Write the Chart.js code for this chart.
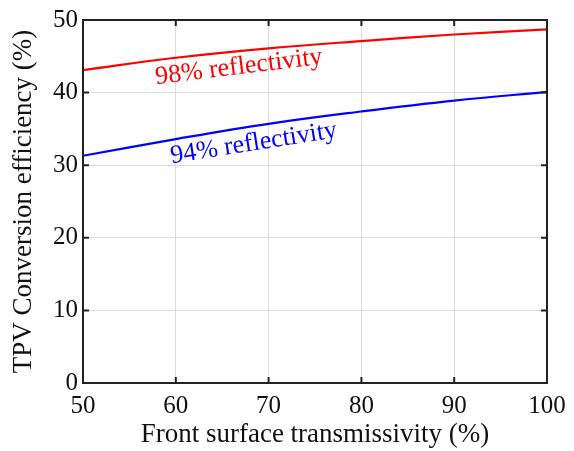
<!DOCTYPE html>
<html>
<head>
<meta charset="utf-8">
<script src="https://cdn.jsdelivr.net/npm/chart.js@4.4.1/dist/chart.umd.min.js"></script>
<style>
  html, body { margin: 0; padding: 0; background: #fff; }
  #wrap { width: 574px; height: 451px; }
</style>
</head>
<body>
<div id="wrap"><canvas id="tpvChart" width="574" height="451"></canvas></div>
<script>
// transmissivity (%) en el eje x
const transmissivity = [50, 60, 70, 80, 90, 100];
// eficiencia de conversion (%) para cada reflectividad
const eff98 = [43.1, 44.8, 46.1, 47.1, 48.0, 48.7];
const eff94 = [31.3, 33.6, 35.7, 37.4, 38.9, 40.1];
const xTicks = [50, 60, 70, 80, 90, 100];
const yTicks = [0, 10, 20, 30, 40, 50];
// etiquetas dentro del grafico: [texto, x, y, angulo, color]
const curveLabels = [
    ["98% reflectivity", 66.8, 43.5, -7, "#ff0000"],
    ["94% reflectivity", 68.4, 33.0, -9, "#0000ff"],
];

const serif = "'Liberation Serif', 'Times New Roman', serif";

// marco negro y marcas hacia adentro
const framePlugin = {
    id: "frame",
    afterDraw(chart) {
        const { ctx, chartArea: a, scales } = chart;
        ctx.save();
        ctx.strokeStyle = "#222";
        ctx.lineWidth = 2;
        ctx.beginPath();
        xTicks.forEach(v => {
            const px = scales.x.getPixelForValue(v);
            ctx.moveTo(px, a.bottom); ctx.lineTo(px, a.bottom - 6);
            ctx.moveTo(px, a.top); ctx.lineTo(px, a.top + 6);
        });
        yTicks.forEach(v => {
            const py = scales.y.getPixelForValue(v);
            ctx.moveTo(a.left, py); ctx.lineTo(a.left + 6, py);
            ctx.moveTo(a.right, py); ctx.lineTo(a.right - 6, py);
        });
        ctx.stroke();
        ctx.strokeRect(a.left, a.top, a.right - a.left, a.bottom - a.top);

        ctx.font = "26px " + serif;
        ctx.textAlign = "center";
        ctx.textBaseline = "middle";
        curveLabels.forEach(([text, x, y, ang, color]) => {
            ctx.save();
            ctx.translate(scales.x.getPixelForValue(x), scales.y.getPixelForValue(y));
            ctx.rotate(ang * Math.PI / 180);
            ctx.fillStyle = color;
            ctx.fillText(text, 0, 0);
            ctx.restore();
        });
        ctx.restore();
    }
};

const ctx = document.getElementById("tpvChart").getContext("2d");
new Chart(ctx, {
    type: "line",
    data: {
        datasets: [
            {
                label: "98% reflectivity",
                data: transmissivity.map((t, i) => ({ x: t, y: eff98[i] })),
                borderColor: "#ff0000",
                borderWidth: 2.2,
                pointRadius: 0,
                tension: 0.4,
            },
            {
                label: "94% reflectivity",
                data: transmissivity.map((t, i) => ({ x: t, y: eff94[i] })),
                borderColor: "#0000ff",
                borderWidth: 2.2,
                pointRadius: 0,
                tension: 0.4,
            },
        ],
    },
    options: {
        responsive: false,
        animation: false,
        layout: { padding: { top: 19, right: 27, left: 0, bottom: 0 } },
        plugins: { legend: { display: false }, tooltip: { enabled: false } },
        scales: {
            x: {
                type: "linear",
                min: 50,
                max: 100,
                afterFit: s => { s.height = 68; },
                afterBuildTicks: s => { s.ticks = xTicks.map(v => ({ value: v })); },
                grid: { color: "#dcdcdc", lineWidth: 1, drawTicks: false },
                border: { display: false },
                ticks: { color: "#111", padding: 8, font: { family: serif, size: 25 } },
                title: {
                    display: true,
                    text: "Front surface transmissivity (%)",
                    color: "#111",
                    font: { family: serif, size: 27 },
                    padding: { top: 5, bottom: 0 },
                },
            },
            y: {
                min: 0,
                max: 50,
                afterFit: s => { s.width = 83; },
                afterBuildTicks: s => { s.ticks = yTicks.map(v => ({ value: v })); },
                grid: { color: "#dcdcdc", lineWidth: 1, drawTicks: false },
                border: { display: false },
                ticks: { color: "#111", padding: 5, font: { family: serif, size: 25 } },
                title: {
                    display: true,
                    text: "TPV Conversion efficiency (%)",
                    color: "#111",
                    font: { family: serif, size: 27 },
                    padding: { top: 8, bottom: 0 },
                },
            },
        },
    },
    plugins: [framePlugin],
});
</script>
</body>
</html>
